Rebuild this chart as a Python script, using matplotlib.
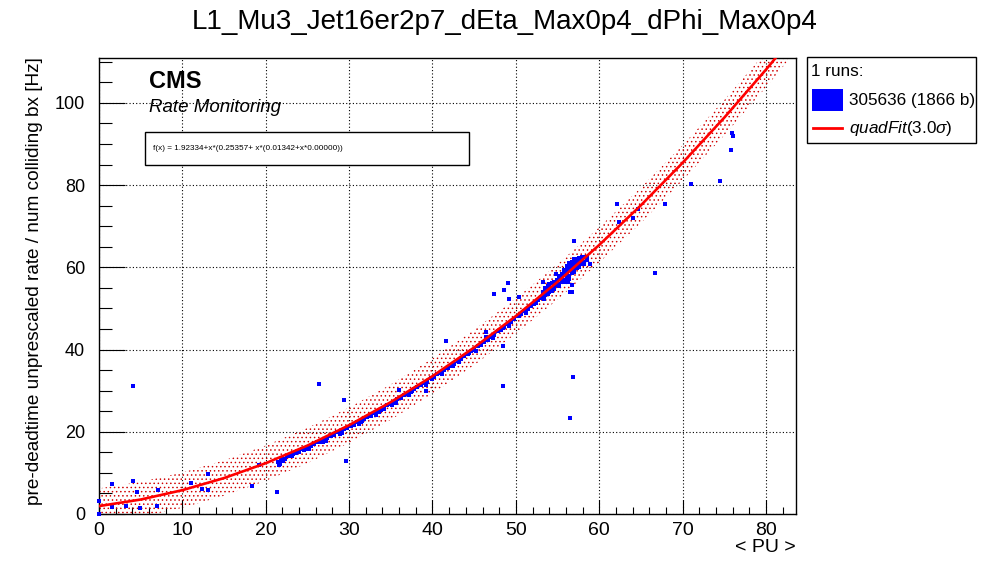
import matplotlib
matplotlib.use("Agg")
import matplotlib.pyplot as plt
import numpy as np
from matplotlib.ticker import MultipleLocator
from matplotlib.patches import Rectangle
from matplotlib.lines import Line2D

# ---------------- data ----------------
title = "L1_Mu3_Jet16er2p7_dEta_Max0p4_dPhi_Max0p4"
xlabel = "< PU >"
ylabel = "pre-deadtime unprescaled rate / num colliding bx [Hz]"
fit_text = "f(x) = 1.92334+x*(0.25357+ x*(0.01342+x*0.00000))"
legend_header = "1 runs:"
run_label = "305636 (1866 b)"
fit_label = r"$\mathit{quadFit}$(3.0$\mathit{\sigma}$)"

# fit curve values
fit_x = [0, 5, 10, 15, 20, 25, 30, 35, 40, 45, 50, 55, 60, 65, 70, 75, 80, 85]
fit_y = [1.92, 3.52, 5.80, 8.74, 12.36, 16.65, 21.61, 27.23, 33.54, 40.51,
         48.15, 56.47, 65.45, 75.10, 85.43, 96.43, 108.1, 120.4]
band_halfwidth = 4.3

# points along the fit band
band_x = [21.5, 21.7, 21.8, 22.0, 22.3, 22.6, 23.0, 23.3, 23.6, 24.0, 24.3, 24.6,
          25.0, 25.4, 25.8, 26.2, 26.6, 27.0, 27.4, 27.8, 28.2, 28.6, 29.0, 29.4,
          29.8, 30.2, 30.6, 31.0, 31.4, 31.8, 32.2, 32.6, 33.0, 33.4, 33.8, 34.2,
          34.6, 35.0, 35.4, 35.8, 36.2, 36.6, 37.0, 37.4, 37.8, 38.2, 38.6, 39.0,
          39.4, 39.8, 40.2, 40.6, 41.0, 41.4, 41.8, 42.2, 42.6, 43.0, 43.4, 43.8,
          44.2, 44.6, 45.0, 45.4, 45.8, 46.2, 46.6, 47.0, 47.4, 47.8, 48.2, 48.6,
          49.0, 49.4, 49.8, 50.2, 50.6, 51.0, 51.4, 51.8, 52.2, 52.6, 53.0,
          22.1, 24.8, 26.9, 28.9, 31.6, 33.6, 35.6, 37.6, 40.0, 42.4, 44.4, 46.4,
          48.4, 50.4, 52.4, 21.6, 21.9,
          23.2, 25.2, 27.2, 29.2, 31.2, 33.2, 35.2, 37.2, 39.2, 41.2, 43.2, 45.2,
          47.2, 49.2, 51.2, 53.4]
band_y = [12.6, 12.2, 13.0, 13.3, 13.5, 14.0, 14.1, 14.6, 14.9, 15.0, 15.7, 15.5,
          16.2, 16.5, 17.0, 17.5, 17.4, 18.2, 18.4, 19.0, 19.3, 19.9, 20.0, 20.6,
          20.8, 21.5, 21.6, 22.3, 22.5, 23.2, 23.5, 23.8, 24.5, 24.9, 25.4, 25.6,
          26.4, 26.8, 27.0, 27.9, 28.2, 28.9, 29.3, 29.6, 30.4, 30.8, 31.3, 31.9,
          32.2, 33.0, 33.4, 34.0, 34.4, 35.1, 35.5, 36.1, 36.6, 37.3, 37.8, 38.4,
          38.9, 39.6, 40.0, 40.8, 41.2, 41.9, 42.3, 43.1, 43.6, 44.4, 44.8, 45.6,
          46.1, 46.8, 47.4, 48.1, 48.6, 49.4, 49.9, 50.7, 51.2, 52.0, 52.6,
          13.0, 15.9, 17.6, 19.5, 22.6, 24.8, 27.1, 29.9, 32.9, 36.0, 39.1, 43.0,
          45.3, 48.2, 51.4, 11.9, 12.8,
          14.0, 15.8, 17.7, 19.7, 21.8, 24.1, 26.5, 28.9, 31.5, 34.0, 36.9, 39.7,
          42.7, 45.8, 49.0, 52.4]

# dense cluster at high pile-up
cluster_x = [53.2, 53.2, 53.5, 53.5, 53.5, 53.8, 53.8, 53.8, 54.0, 54.0, 54.0,
             54.3, 54.3, 54.3, 54.6, 54.6, 54.6, 54.9, 54.9, 54.9,
             55.2, 55.2, 55.2, 55.2, 55.5, 55.5, 55.5, 55.5,
             55.8, 55.8, 55.8, 55.8, 56.1, 56.1, 56.1, 56.1, 56.1,
             56.4, 56.4, 56.4, 56.4, 56.4, 56.7, 56.7, 56.7, 56.7, 56.7,
             57.0, 57.0, 57.0, 57.0, 57.0, 57.3, 57.3, 57.3, 57.3, 57.3,
             57.6, 57.6, 57.6, 57.6, 57.9, 57.9, 57.9, 57.9,
             58.2, 58.2, 58.2, 58.5, 58.5]
cluster_y = [53.0, 54.0, 53.2, 54.5, 55.0, 53.6, 54.8, 55.5, 54.0, 55.3, 56.0,
             54.2, 55.0, 56.3, 55.2, 56.5, 54.8, 55.6, 57.0, 56.0,
             56.0, 57.5, 55.4, 58.0, 56.5, 57.8, 58.5, 57.0,
             57.0, 58.5, 59.3, 56.4, 57.3, 58.8, 59.8, 60.3, 57.8,
             58.0, 59.5, 60.5, 61.0, 57.2, 58.6, 60.0, 61.2, 59.0, 60.6,
             59.3, 60.6, 61.6, 58.8, 62.0, 59.8, 61.0, 62.0, 60.3, 61.5,
             60.2, 61.5, 62.3, 60.8, 60.8, 61.8, 62.5, 61.2,
             61.4, 62.4, 60.9, 61.7, 62.6]

# isolated points
out_x = [0.0, 0.0, 1.6, 1.6, 3.2, 4.1, 4.1, 4.6, 4.9, 7.0, 7.1, 11.0, 12.4, 13.1,
         13.1, 18.4, 19.2, 21.4, 26.4, 29.4, 29.6, 36.0, 39.2, 41.6, 46.4, 47.4,
         48.6, 49.1, 49.2, 50.4, 48.4, 48.5, 53.2, 54.8, 56.2, 56.7, 56.5, 56.7,
         58.9, 57.0, 56.8, 56.5, 62.1, 62.4, 64.1, 64.7, 67.9, 66.7, 71.0, 74.5,
         75.9, 76.0, 75.8]
out_y = [0.0, 3.1, 7.2, 1.7, 1.9, 31.1, 8.0, 5.3, 1.4, 1.9, 5.8, 7.5, 6.0, 9.7,
         5.8, 6.7, 11.9, 5.3, 31.6, 27.7, 12.8, 30.2, 30.0, 42.0, 44.2, 53.5,
         54.4, 56.1, 52.4, 52.7, 40.8, 31.1, 56.4, 58.4, 56.4, 55.7, 53.9, 53.9,
         60.8, 66.4, 33.3, 23.3, 75.4, 71.0, 71.9, 74.1, 75.4, 58.6, 80.2, 80.9,
         92.6, 92.0, 88.5]

x_range = (0, 83.6)
y_range = (0, 111)

# ---------------- style ----------------
plt.rcParams['font.family'] = ['Liberation Sans', 'DejaVu Sans']
plt.rcParams['mathtext.fontset'] = 'custom'
plt.rcParams['mathtext.rm'] = 'Liberation Sans'
plt.rcParams['mathtext.it'] = 'Liberation Sans:italic'
plt.rcParams['hatch.linewidth'] = 0.55

W, H = 996, 572
fig = plt.figure(figsize=(W / 100, H / 100), dpi=100)

def fx(px):
    return px / W

def fy(py):
    return 1 - py / H

ax = fig.add_axes([fx(99), fy(514), fx(796 - 99), (514 - 57.7) / H])
ax.set_xlim(*x_range)
ax.set_ylim(*y_range)

fxa = np.array(fit_x, dtype=float)
fya = np.array(fit_y, dtype=float)
ax.fill_between(fxa, fya - band_halfwidth, fya + band_halfwidth,
                facecolor='none', edgecolor='#d00000', linewidth=0, hatch='....',
                zorder=2)

mk = dict(color='#0000ff', ms=3.1, mew=0, zorder=3)
ax.plot(band_x, band_y, 's', **mk)
ax.plot(cluster_x, cluster_y, 's', **mk)
ax.plot(out_x, out_y, 's', clip_on=False, **mk)
ax.plot(fxa, fya, '-', color='#ff0000', lw=1.9, zorder=4)

ax.xaxis.set_major_locator(MultipleLocator(10))
ax.xaxis.set_minor_locator(MultipleLocator(2))
ax.yaxis.set_major_locator(MultipleLocator(20))
ax.yaxis.set_minor_locator(MultipleLocator(5))
ax.tick_params(axis='x', which='major', direction='in', length=10, width=0.8,
               labelsize=14, pad=6, top=False)
ax.tick_params(axis='x', which='minor', direction='in', length=5, width=0.8, top=False)
ax.tick_params(axis='y', which='major', direction='in', length=18.5, width=0.8,
               labelsize=13, pad=10, right=False)
ax.tick_params(axis='y', which='minor', direction='in', length=9.3, width=0.8, right=False)
ax.grid(which='major', color='black', linestyle=(0, (1, 2)), linewidth=0.8, zorder=1)
ax.set_axisbelow(True)
for s in ax.spines.values():
    s.set_linewidth(1.0)

fig.text(fx(796), fy(548), xlabel, ha='right', va='center', fontsize=14)
fig.text(fx(35), fy(281), ylabel, rotation=90, ha='center', va='center', fontsize=13.7)
fig.text(fx(505), fy(22), title, ha='center', va='center', fontsize=20)

fig.text(fx(149), fy(81), "CMS", ha='left', va='center', fontsize=17, fontweight='bold')
fig.text(fx(149), fy(108), "Rate Monitoring", ha='left', va='center', fontsize=13.5,
         style='italic')

fig.patches.append(Rectangle((fx(145), fy(165)), fx(469 - 145), (165 - 132) / H,
                             transform=fig.transFigure, facecolor='white',
                             edgecolor='black', linewidth=1.0, zorder=5))
fig.text(fx(153), fy(149), fit_text, ha='left', va='center', fontsize=5.9, zorder=6)

# legend
fig.patches.append(Rectangle((fx(807), fy(143)), fx(976 - 807), (143 - 57) / H,
                             transform=fig.transFigure, facecolor='white',
                             edgecolor='black', linewidth=1.0))
fig.text(fx(811), fy(72), legend_header, ha='left', va='center', fontsize=12.3)
fig.patches.append(Rectangle((fx(812), fy(111)), fx(843 - 812), (111 - 89) / H,
                             transform=fig.transFigure, facecolor='#0000ff',
                             edgecolor='none'))
fig.text(fx(849), fy(100), run_label, ha='left', va='center', fontsize=12.3)
fig.lines.append(Line2D([fx(813), fx(842)], [fy(128), fy(128)],
                        transform=fig.transFigure, color='#ff0000', lw=2.0))
fig.text(fx(849), fy(129), fit_label, ha='left', va='center', fontsize=12.3)

fig.savefig("out.png", dpi=100)
